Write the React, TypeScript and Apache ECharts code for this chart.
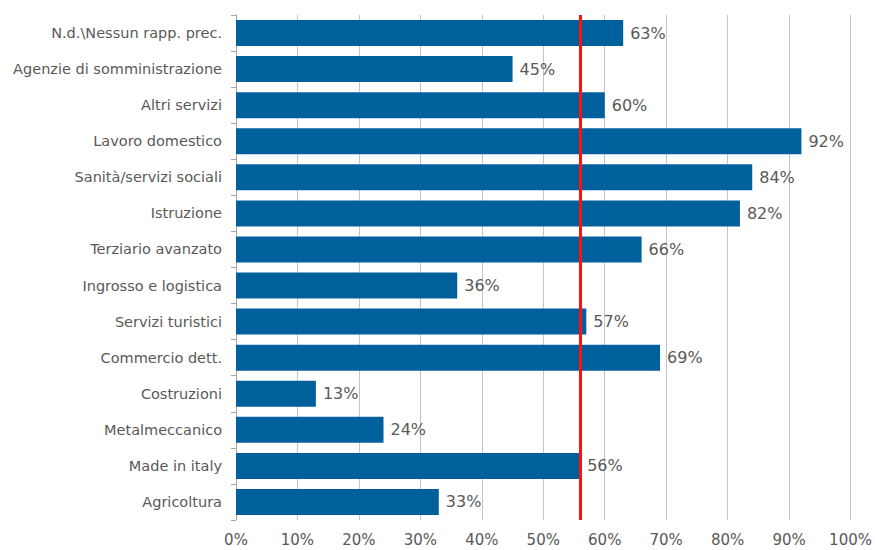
import React, { useEffect, useRef } from "react";
import * as echarts from "echarts";

const categories = [
  "N.d.\\Nessun rapp. prec.",
  "Agenzie di somministrazione",
  "Altri servizi",
  "Lavoro domestico",
  "Sanità/servizi sociali",
  "Istruzione",
  "Terziario avanzato",
  "Ingrosso e logistica",
  "Servizi turistici",
  "Commercio dett.",
  "Costruzioni",
  "Metalmeccanico",
  "Made in italy",
  "Agricoltura",
];
const values = [63, 45, 60, 92, 84, 82, 66, 36, 57, 69, 13, 24, 56, 33];
const referenceValue = 56;

const FONT = "DejaVu Sans";
const TEXT = "#595959";

export default function App() {
  const ref = useRef<HTMLDivElement>(null);
  useEffect(() => {
    if (!ref.current) return;
    const chart = echarts.init(ref.current, null, { renderer: "svg" });
    chart.setOption({
      animation: false,
      backgroundColor: "#ffffff",
      grid: { left: 236, right: 23, top: 15, bottom: 30, containLabel: false },
      xAxis: {
        type: "value",
        min: 0,
        max: 100,
        interval: 10,
        axisLine: { show: false },
        axisTick: { show: false },
        axisLabel: {
          formatter: "{value}%",
          color: TEXT,
          fontFamily: FONT,
          fontSize: 15,
          margin: 12,
        },
        splitLine: { show: true, lineStyle: { color: "#c4c4c4", width: 1 } },
      },
      yAxis: {
        type: "category",
        data: categories,
        inverse: true,
        axisLine: { show: true, lineStyle: { color: "#a6a6a6", width: 1 } },
        axisTick: { show: true, length: 5, lineStyle: { color: "#a6a6a6" } },
        axisLabel: {
          color: TEXT,
          fontFamily: FONT,
          fontSize: 14.5,
          margin: 14,
        },
        splitLine: { show: false },
      },
      series: [
        {
          type: "bar",
          data: values,
          barCategoryGap: "28%",
          itemStyle: { color: "#00609c" },
          label: {
            show: true,
            position: "right",
            distance: 7,
            formatter: "{c}%",
            color: TEXT,
            fontFamily: FONT,
            fontSize: 16,
          },
          markLine: {
            silent: true,
            z: 10,
            symbol: ["none", "none"],
            label: { show: false },
            emphasis: { disabled: true },
            lineStyle: { color: "#ff1010", width: 3, type: "solid", opacity: 1 },
            data: [{ xAxis: referenceValue }],
          },
        },
      ],
    });
    return () => chart.dispose();
  }, []);
  return (
    <div
      ref={ref}
      style={{ position: "fixed", left: 0, top: 0, width: 875, height: 550 }}
    />
  );
}
